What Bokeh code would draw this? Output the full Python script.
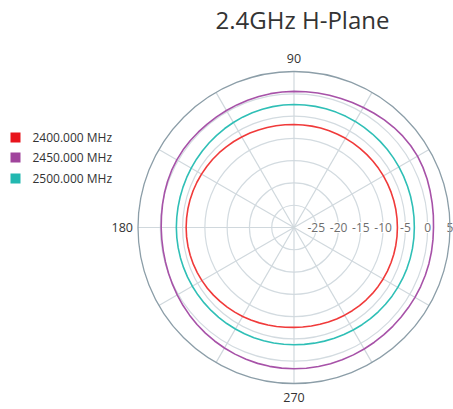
import numpy as np
from bokeh.plotting import figure
from bokeh.models import Range1d
from bokeh.core.properties import value
from bokeh.embed import file_html
from bokeh.resources import INLINE

# ---- data ----
angles_deg = list(range(0, 360, 5))
series_names = ["2400.000 MHz", "2450.000 MHz", "2500.000 MHz"]
gain_2400 = [-6.80, -6.80, -6.80, -6.81, -6.82, -6.83, -6.84, -6.85, -6.86, -6.87,
             -6.88, -6.89, -6.90, -6.90, -6.90, -6.90, -6.90, -6.90,
             -6.90, -6.87, -6.83, -6.77, -6.70, -6.62, -6.54, -6.45, -6.36, -6.27,
             -6.19, -6.11, -6.04, -5.97, -5.91, -5.86, -5.83, -5.81,
             -5.80, -5.81, -5.84, -5.89, -5.96, -6.05, -6.15, -6.27, -6.40, -6.54,
             -6.68, -6.82, -6.96, -7.10, -7.23, -7.35, -7.46, -7.55,
             -7.60, -7.60, -7.57, -7.52, -7.45, -7.37, -7.29, -7.21, -7.13, -7.06,
             -7.00, -6.95, -6.90, -6.87, -6.84, -6.82, -6.81, -6.80]
gain_2450 = [1.30, 1.38, 1.48, 1.62, 1.78, 1.92, 2.00, 1.98, 1.88, 1.72,
             1.52, 1.30, 1.10, 0.93, 0.80, 0.70, 0.63, 0.58,
             0.55, 0.52, 0.49, 0.45, 0.40, 0.35, 0.32, 0.30, 0.30, 0.32,
             0.36, 0.38, 0.36, 0.30, 0.20, 0.08, -0.05, -0.15,
             -0.20, -0.22, -0.20, -0.14, -0.04, 0.10, 0.26, 0.43, 0.60, 0.77,
             0.93, 1.08, 1.22, 1.35, 1.46, 1.56, 1.63, 1.68,
             1.70, 1.70, 1.68, 1.64, 1.59, 1.53, 1.47, 1.42, 1.38, 1.35,
             1.33, 1.33, 1.34, 1.35, 1.35, 1.34, 1.32, 1.30]
gain_2500 = [-3.00, -2.98, -2.96, -2.93, -2.90, -2.86, -2.82, -2.77, -2.72, -2.67,
             -2.62, -2.57, -2.52, -2.48, -2.45, -2.42, -2.40, -2.40,
             -2.40, -2.42, -2.46, -2.52, -2.60, -2.69, -2.79, -2.89, -3.00, -3.10,
             -3.20, -3.29, -3.37, -3.44, -3.50, -3.55, -3.58, -3.60,
             -3.60, -3.61, -3.62, -3.63, -3.64, -3.65, -3.66, -3.67, -3.68, -3.69,
             -3.70, -3.70, -3.70, -3.70, -3.70, -3.70, -3.70, -3.70,
             -3.70, -3.68, -3.65, -3.61, -3.56, -3.50, -3.44, -3.38, -3.32, -3.26,
             -3.20, -3.15, -3.11, -3.07, -3.04, -3.02, -3.01, -3.00]
radial_ticks = [-25, -20, -15, -10, -5, 0, 5]
angle_labels = ["90", "180", "270"]
angle_label_deg = [90, 180, 270]
r_min, r_max = -30, 5

colors_line = ["#f03a3a", "#a752a8", "#2fbfb6"]
colors_legend = ["#e8141c", "#a0449c", "#22b8b0"]

# ---- layout ----
W, H = 453, 409
cx, cy = 293.5, 227.0           # polar centre in figure pixels
R = 156.0                       # outer radius in pixels
k = R / (r_max - r_min)         # pixels per data unit

def P(px, py):
    """figure pixel -> data coords"""
    return ((px - cx) / k, (cy - py) / k)

p = figure(width=W, height=H, output_backend="svg", toolbar_location=None,
           x_range=Range1d(-cx / k, (W - cx) / k),
           y_range=Range1d(-(H - cy) / k, cy / k),
           min_border=0, outline_line_color=None)
p.axis.visible = False
p.grid.visible = False
p.background_fill_color = "white"

span = r_max - r_min
# rings
ring_r = [t - r_min for t in radial_ticks[:-1]]
p.circle(x=[0] * len(ring_r), y=[0] * len(ring_r), radius=ring_r,
         fill_color=None, line_color="#d3dbe0", line_width=1.2)
# spokes (skip 0 deg where labels sit)
sp = np.deg2rad(np.arange(30, 360, 30))
p.segment(x0=[0] * len(sp), y0=[0] * len(sp), x1=list(span * np.cos(sp)),
          y1=list(span * np.sin(sp)), line_color="#d0d8dd", line_width=1.2)

# radial labels
p.text(x=[t - r_min for t in radial_ticks], y=[0] * len(radial_ticks),
       text=[str(t) for t in radial_ticks], text_align="center",
       text_baseline="middle", text_font=value("Open Sans"),
       text_font_size="12px", text_color="#6e6e6e",
       background_fill_color="white", padding=1)

# outer ring
p.circle(x=[0], y=[0], radius=[span], fill_color=None,
         line_color="#8c9ea8", line_width=1.3)

# series
th = np.deg2rad(np.array(angles_deg + [angles_deg[0]]))
for g, c in zip([gain_2400, gain_2450, gain_2500], colors_line):
    rr = np.array(g + [g[0]]) - r_min
    p.line(x=list(rr * np.cos(th)), y=list(rr * np.sin(th)),
           line_color=c, line_width=1.6)

# angle labels
p.text(x=[0, 0], y=[span + 13 / k, -(span + 14 / k)], text=[angle_labels[0], angle_labels[2]],
       text_align="center", text_baseline="middle", text_font=value("Open Sans"),
       text_font_size="12.5px", text_color="#333333")
p.text(x=[-(span + 5 / k)], y=[0], text=[angle_labels[1]],
       text_align="right", text_baseline="middle", text_font=value("Open Sans"),
       text_font_size="12.5px", text_color="#333333")

# legend
lx = P(15, 0)[0]
lys = [P(0, yy)[1] for yy in (137, 157, 178)]
p.scatter(x=[lx] * 3, y=lys, marker="square", size=10,
          fill_color=colors_legend, line_color=None)
tx = P(32, 0)[0]
p.text(x=[tx] * 3, y=lys, text=series_names, text_align="left",
       text_baseline="middle", text_font=value("Open Sans"),
       text_font_size="12px", text_color="#333333")

# title
tx0, ty0 = P(302, 19)
p.text(x=[tx0], y=[ty0], text=["2.4GHz H-Plane"], text_align="center",
       text_baseline="middle", text_font=value("Open Sans"),
       text_font_size="24px", text_color="#333333")

open("out.html", "w").write(file_html(p, INLINE))
